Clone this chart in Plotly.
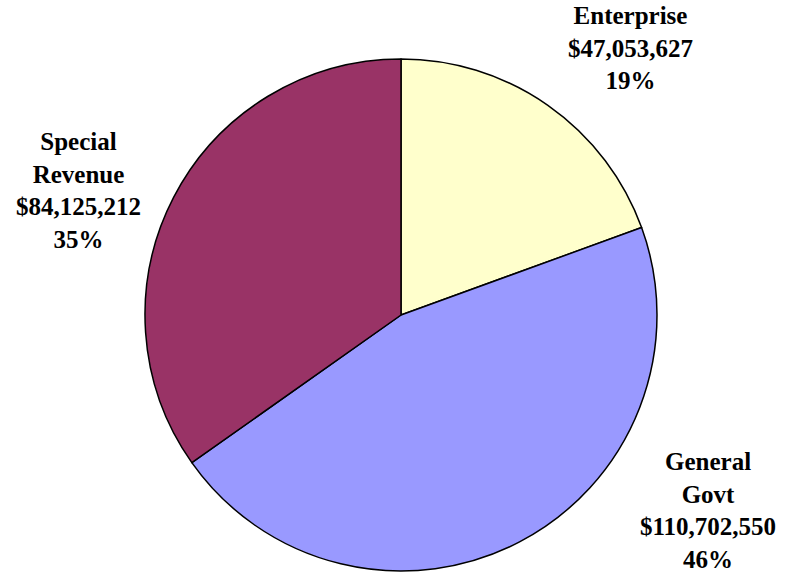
import plotly.graph_objects as go

categories = ["Enterprise", "General Govt", "Special Revenue"]
values = [47053627, 110702550, 84125212]
colors = ["#FFFFCC", "#9999FF", "#993366"]
label_lines = ["Enterprise", "General<br>Govt", "Special<br>Revenue"]

W, H = 785, 576
cx, cy, r = 401, 315, 256

total = sum(values)
fig = go.Figure(go.Pie(
    labels=categories, values=values, sort=False, direction="clockwise",
    rotation=0, textinfo="none", hoverinfo="label+value+percent",
    marker=dict(colors=colors, line=dict(color="black", width=1.5)),
    domain=dict(x=[(cx - r) / W, (cx + r) / W], y=[1 - (cy + r) / H, 1 - (cy - r) / H]),
    showlegend=False,
))

label_pos = [(630, 48), (708, 510), (78, 190)]
for name, v, (px, py) in zip(label_lines, values, label_pos):
    pct = round(v / total * 100)
    fig.add_annotation(
        x=px / W, y=1 - py / H, xref="paper", yref="paper",
        text=f"<b>{name}<br>${v:,}<br>{pct}%</b>", showarrow=False,
        font=dict(family="Liberation Serif, Times New Roman, serif", size=25, color="black"),
        align="center", xanchor="center", yanchor="middle",
    )

fig.update_layout(width=W, height=H, margin=dict(l=0, r=0, t=0, b=0),
                  paper_bgcolor="white", plot_bgcolor="white")
fig.write_html("out.html", config={"displayModeBar": False},
               post_script="document.body.style.margin='0';document.body.style.overflow='hidden';")
